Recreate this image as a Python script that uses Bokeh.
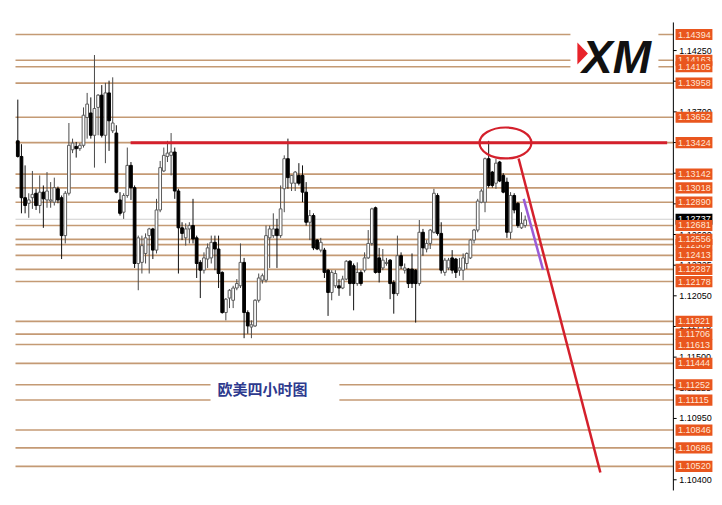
from bokeh.plotting import figure
from bokeh.models import Range1d, ColumnDataSource
from bokeh.embed import file_html
from bokeh.resources import INLINE
from bokeh.core.properties import value

# ---------------- data (EURUSD 4H candles) ----------------
opens = [1.1344, 1.1330, 1.1293, 1.1288, 1.1293, 1.1297, 1.1286, 1.1298, 1.1291, 1.1290,
         1.1289, 1.1301, 1.1293, 1.1259, 1.1297, 1.1336, 1.1339, 1.1337, 1.1340, 1.1365,
         1.1369, 1.1349, 1.1374, 1.1385, 1.1349, 1.1387, 1.1353, 1.1351, 1.1291, 1.1280,
         1.1295, 1.1322, 1.1302, 1.1234, 1.1235, 1.1243, 1.1259, 1.1265, 1.1246, 1.1282,
         1.1317, 1.1330, 1.1331, 1.1334, 1.1299, 1.1266, 1.1257, 1.1265, 1.1268, 1.1257,
         1.1235, 1.1228, 1.1238, 1.1239, 1.1253, 1.1247, 1.1226, 1.1190, 1.1203, 1.1201,
         1.1212, 1.1214, 1.1235, 1.1190, 1.1177, 1.1178, 1.1201, 1.1219, 1.1219, 1.1257,
         1.1259, 1.1265, 1.1259, 1.1301, 1.1328, 1.1306, 1.1306, 1.1313, 1.1313, 1.1298,
         1.1271, 1.1277, 1.1255, 1.1246, 1.1246, 1.1228, 1.1208, 1.1214, 1.1214, 1.1212,
         1.1220, 1.1236, 1.1232, 1.1216, 1.1226, 1.1228, 1.1239, 1.1252, 1.1284, 1.1239,
         1.1230, 1.1234, 1.1237, 1.1217, 1.1207, 1.1241, 1.1228, 1.1229, 1.1229, 1.1228,
         1.1216, 1.1262, 1.1247, 1.1252, 1.1262, 1.1295, 1.1261, 1.1226, 1.1230, 1.1239,
         1.1238, 1.1228, 1.1228, 1.1234, 1.1239, 1.1255, 1.1264, 1.1289, 1.1289, 1.1328,
         1.1316, 1.1306, 1.1325, 1.1313, 1.1307, 1.1262, 1.1295, 1.1288, 1.1266, 1.1268]
highs = [1.1381, 1.1341, 1.1322, 1.1297, 1.1317, 1.1301, 1.1313, 1.1304, 1.1316, 1.1307,
         1.1311, 1.1303, 1.1295, 1.1299, 1.1360, 1.1346, 1.1343, 1.1342, 1.1374, 1.1387,
         1.1383, 1.1421, 1.1386, 1.1394, 1.1396, 1.1398, 1.1401, 1.1358, 1.1298, 1.1297,
         1.1338, 1.1325, 1.1304, 1.1259, 1.1259, 1.1261, 1.1266, 1.1266, 1.1292, 1.1326,
         1.1338, 1.1344, 1.1351, 1.1338, 1.1301, 1.1271, 1.1270, 1.1271, 1.1292, 1.1259,
         1.1237, 1.1244, 1.1252, 1.1259, 1.1259, 1.1259, 1.1227, 1.1203, 1.1211, 1.1214,
         1.1220, 1.1252, 1.1239, 1.1192, 1.1183, 1.1202, 1.1225, 1.1225, 1.1268, 1.1268,
         1.1279, 1.1274, 1.1304, 1.1331, 1.1346, 1.1313, 1.1317, 1.1324, 1.1322, 1.1307,
         1.1282, 1.1279, 1.1256, 1.1257, 1.1248, 1.1229, 1.1228, 1.1228, 1.1220, 1.1223,
         1.1237, 1.1237, 1.1234, 1.1235, 1.1228, 1.1244, 1.1264, 1.1284, 1.1285, 1.1248,
         1.1247, 1.1239, 1.1238, 1.1219, 1.1259, 1.1244, 1.1234, 1.1230, 1.1243, 1.1229,
         1.1273, 1.1265, 1.1255, 1.1265, 1.1301, 1.1297, 1.1271, 1.1239, 1.1239, 1.1246,
         1.1239, 1.1239, 1.1243, 1.1244, 1.1256, 1.1265, 1.1292, 1.1301, 1.1329, 1.1344,
         1.1317, 1.1328, 1.1326, 1.1315, 1.1311, 1.1298, 1.1297, 1.1289, 1.1280, 1.1277]
lows = [1.1329, 1.1279, 1.1279, 1.1275, 1.1283, 1.1282, 1.1279, 1.1266, 1.1284, 1.1284,
        1.1286, 1.1288, 1.1238, 1.1252, 1.1295, 1.1333, 1.1329, 1.1335, 1.1338, 1.1346,
        1.1346, 1.1320, 1.1349, 1.1347, 1.1324, 1.1335, 1.1351, 1.1297, 1.1277, 1.1274,
        1.1293, 1.1291, 1.1230, 1.1210, 1.1225, 1.1234, 1.1225, 1.1238, 1.1243, 1.1280,
        1.1316, 1.1325, 1.1313, 1.1292, 1.1225, 1.1255, 1.1250, 1.1252, 1.1252, 1.1221,
        1.1203, 1.1225, 1.1230, 1.1234, 1.1228, 1.1212, 1.1189, 1.1183, 1.1194, 1.1194,
        1.1210, 1.1212, 1.1167, 1.1171, 1.1167, 1.1177, 1.1199, 1.1216, 1.1217, 1.1230,
        1.1257, 1.1230, 1.1257, 1.1280, 1.1301, 1.1299, 1.1299, 1.1304, 1.1289, 1.1268,
        1.1255, 1.1246, 1.1246, 1.1244, 1.1221, 1.1187, 1.1201, 1.1212, 1.1205, 1.1211,
        1.1219, 1.1205, 1.1192, 1.1214, 1.1214, 1.1226, 1.1238, 1.1250, 1.1225, 1.1217,
        1.1228, 1.1232, 1.1202, 1.1189, 1.1205, 1.1229, 1.1225, 1.1212, 1.1212, 1.1181,
        1.1214, 1.1241, 1.1244, 1.1247, 1.1261, 1.1259, 1.1225, 1.1223, 1.1228, 1.1225,
        1.1221, 1.1223, 1.1219, 1.1229, 1.1238, 1.1252, 1.1262, 1.1288, 1.1280, 1.1302,
        1.1302, 1.1301, 1.1307, 1.1297, 1.1257, 1.1256, 1.1279, 1.1266, 1.1265, 1.1266]
closes = [1.1330, 1.1293, 1.1286, 1.1291, 1.1296, 1.1286, 1.1298, 1.1292, 1.1299, 1.1291,
          1.1302, 1.1291, 1.1259, 1.1297, 1.1340, 1.1342, 1.1337, 1.1340, 1.1367, 1.1377,
          1.1349, 1.1373, 1.1385, 1.1349, 1.1387, 1.1362, 1.1360, 1.1298, 1.1279, 1.1295,
          1.1322, 1.1302, 1.1234, 1.1257, 1.1250, 1.1257, 1.1265, 1.1246, 1.1282, 1.1320,
          1.1331, 1.1333, 1.1334, 1.1299, 1.1266, 1.1261, 1.1265, 1.1268, 1.1256, 1.1234,
          1.1228, 1.1239, 1.1248, 1.1253, 1.1247, 1.1225, 1.1190, 1.1202, 1.1210, 1.1212,
          1.1216, 1.1235, 1.1190, 1.1178, 1.1179, 1.1201, 1.1221, 1.1223, 1.1259, 1.1265,
          1.1265, 1.1259, 1.1283, 1.1328, 1.1311, 1.1313, 1.1316, 1.1306, 1.1298, 1.1271,
          1.1277, 1.1248, 1.1247, 1.1253, 1.1226, 1.1208, 1.1226, 1.1225, 1.1212, 1.1220,
          1.1236, 1.1216, 1.1216, 1.1226, 1.1216, 1.1239, 1.1252, 1.1283, 1.1226, 1.1226,
          1.1237, 1.1235, 1.1216, 1.1207, 1.1241, 1.1232, 1.1230, 1.1216, 1.1216, 1.1216,
          1.1262, 1.1248, 1.1252, 1.1264, 1.1297, 1.1261, 1.1228, 1.1237, 1.1237, 1.1228,
          1.1226, 1.1230, 1.1239, 1.1243, 1.1255, 1.1264, 1.1290, 1.1299, 1.1328, 1.1304,
          1.1304, 1.1324, 1.1308, 1.1298, 1.1262, 1.1295, 1.1282, 1.1268, 1.1270, 1.1273]

# horizontal support / resistance levels with their price labels (drawing order)
levels = [1.14394, 1.14163, 1.14105, 1.13958, 1.13652, 1.13424, 1.13142, 1.13018,
          1.12890, 1.12681, 1.12509, 1.12556, 1.12413, 1.12287, 1.12178, 1.11821,
          1.11706, 1.11613, 1.11444, 1.11252, 1.11115, 1.10846, 1.10686, 1.10520]
current_price = 1.12737
axis_ticks = [1.14250, 1.13975, 1.13700, 1.13425, 1.13150, 1.12875, 1.12600, 1.12325,
              1.12050, 1.11775, 1.11500, 1.11225, 1.10950, 1.10675, 1.10400]
title_text = "欧美四小时图"
logo_text = "XM"

# hand drawn annotations (bar index, price)
resistance = {"x0": 30.9, "x1": 177.9, "y": 1.13424}
circle = {"x": 133.6, "y": 1.13421, "w": 14.2, "h": 0.00278}
trend_red = {"x0": 137.2, "y0": 1.13282, "x1": 159.6, "y1": 1.10465}
trend_purple = {"x0": 138.6, "y0": 1.12920, "x1": 143.9, "y1": 1.12283}

# price-scale geometry (bar-index units / price units)
AXIS_X = 179.6          # position of the price scale
AXIS_TOP, AXIS_BOTTOM = 1.14502, 1.10304
LINE_START = -0.63
LAB_L, LAB_R, LAB_TX = 180.2, 190.3, 180.9
LAB_H = 0.00050

# ---------------- figure ----------------
n = len(opens)
idx = list(range(n))
bull = [c >= o for o, c in zip(opens, closes)]
src = ColumnDataSource(dict(
    x=idx, o=opens, h=highs, l=lows, c=closes,
    top=[max(o, c) for o, c in zip(opens, closes)],
    bottom=[min(o, c) for o, c in zip(opens, closes)],
    fill=["#ffffff" if b else "#000000" for b in bull],
    line=["#5c5c5c" if b else "#000000" for b in bull],
    wick=["#4a4a4a" if b else "#111111" for b in bull],
))

p = figure(frame_width=714, frame_height=497, output_backend="svg", toolbar_location=None,
           x_range=Range1d(-4.74, 190.87), y_range=Range1d(1.10241, 1.14699),
           x_axis_location=None, y_axis_location=None,
           min_border_left=0, min_border_top=0, min_border_bottom=0, min_border_right=0,
           background_fill_color="white", border_fill_color="white")
p.outline_line_color = None
p.grid.visible = False

# level lines
p.segment(x0=[LINE_START] * len(levels), x1=[AXIS_X] * len(levels), y0=levels, y1=levels,
          line_color="#c49a74", line_width=1.6)
p.segment(x0=[LINE_START], x1=[AXIS_X], y0=[current_price], y1=[current_price],
          line_color="#cfcfcf", line_width=1.2)

# candles
p.segment(x0="x", x1="x", y0="h", y1="l", source=src, line_color="wick", line_width=1)
p.vbar(x="x", top="top", bottom="bottom", width=0.75, source=src,
       fill_color="fill", line_color="line", line_width=1)

# white boxes behind logo and title
p.quad(left=[151.4, 52.8], right=[175.5, 88.1], top=[1.14430, 1.11380], bottom=[1.13999, 1.11039],
       fill_color="white", line_color=None)

# XM logo
p.patch(x=[153.3, 156.2, 153.3], y=[1.14322, 1.14224, 1.14125], fill_color="#e8232a", line_color=None)
p.text(x=[154.6], y=[1.14190], text=[logo_text], text_font=value("Liberation Sans"),
       text_font_style="bold italic", text_font_size="46px", text_color="#111111",
       text_baseline="middle", text_align="left")

# title text
p.text(x=[54.7], y=[1.11215], text=[title_text], text_font=value("Noto Sans CJK SC"),
       text_font_style="bold", text_font_size="15px", text_color="#2e3a8e",
       text_baseline="middle", text_align="left")

# red resistance line, circle and projected trend lines
p.segment(x0=[resistance["x0"]], x1=[resistance["x1"]], y0=[resistance["y"]], y1=[resistance["y"]],
          line_color="#d4202c", line_width=3)
p.ellipse(x=[circle["x"]], y=[circle["y"]], width=[circle["w"]], height=[circle["h"]],
          fill_color=None, line_color="#d4202c", line_width=2.2)
p.segment(x0=[trend_red["x0"]], y0=[trend_red["y0"]], x1=[trend_red["x1"]], y1=[trend_red["y1"]],
          line_color="#d4202c", line_width=2.5)
p.segment(x0=[trend_purple["x0"]], y0=[trend_purple["y0"]], x1=[trend_purple["x1"]], y1=[trend_purple["y1"]],
          line_color="#9a5bd6", line_width=2.5)

# price scale: axis line, ticks and tick labels
p.segment(x0=[AXIS_X], x1=[AXIS_X], y0=[AXIS_TOP], y1=[AXIS_BOTTOM], line_color="black", line_width=1)
p.segment(x0=[AXIS_X] * len(axis_ticks), x1=[AXIS_X + 0.9] * len(axis_ticks),
          y0=axis_ticks, y1=axis_ticks, line_color="black", line_width=1)
p.text(x=[LAB_TX + 0.3] * len(axis_ticks), y=axis_ticks, text=[f"{t:.5f}" for t in axis_ticks],
       text_font=value("Liberation Sans"), text_font_size="9px", text_color="black",
       text_baseline="middle", text_align="left")

# current price label (black) and level labels (orange)
p.quad(left=[LAB_L], right=[LAB_R], top=[current_price + LAB_H], bottom=[current_price - LAB_H],
       fill_color="black", line_color=None)
p.text(x=[LAB_TX], y=[current_price], text=[f"{current_price:.5f}"], text_font=value("Liberation Sans"),
       text_font_size="9px", text_color="white", text_baseline="middle", text_align="left")
for lv in levels:
    p.quad(left=[LAB_L], right=[LAB_R], top=[lv + LAB_H], bottom=[lv - LAB_H],
           fill_color="#e9561e", line_color=None)
    p.text(x=[LAB_TX], y=[lv], text=[f"{lv:.5f}"], text_font=value("Liberation Sans"),
           text_font_size="9px", text_color="#ffe6d6", text_baseline="middle", text_align="left")

open("out.html", "w").write(file_html(p, INLINE))
